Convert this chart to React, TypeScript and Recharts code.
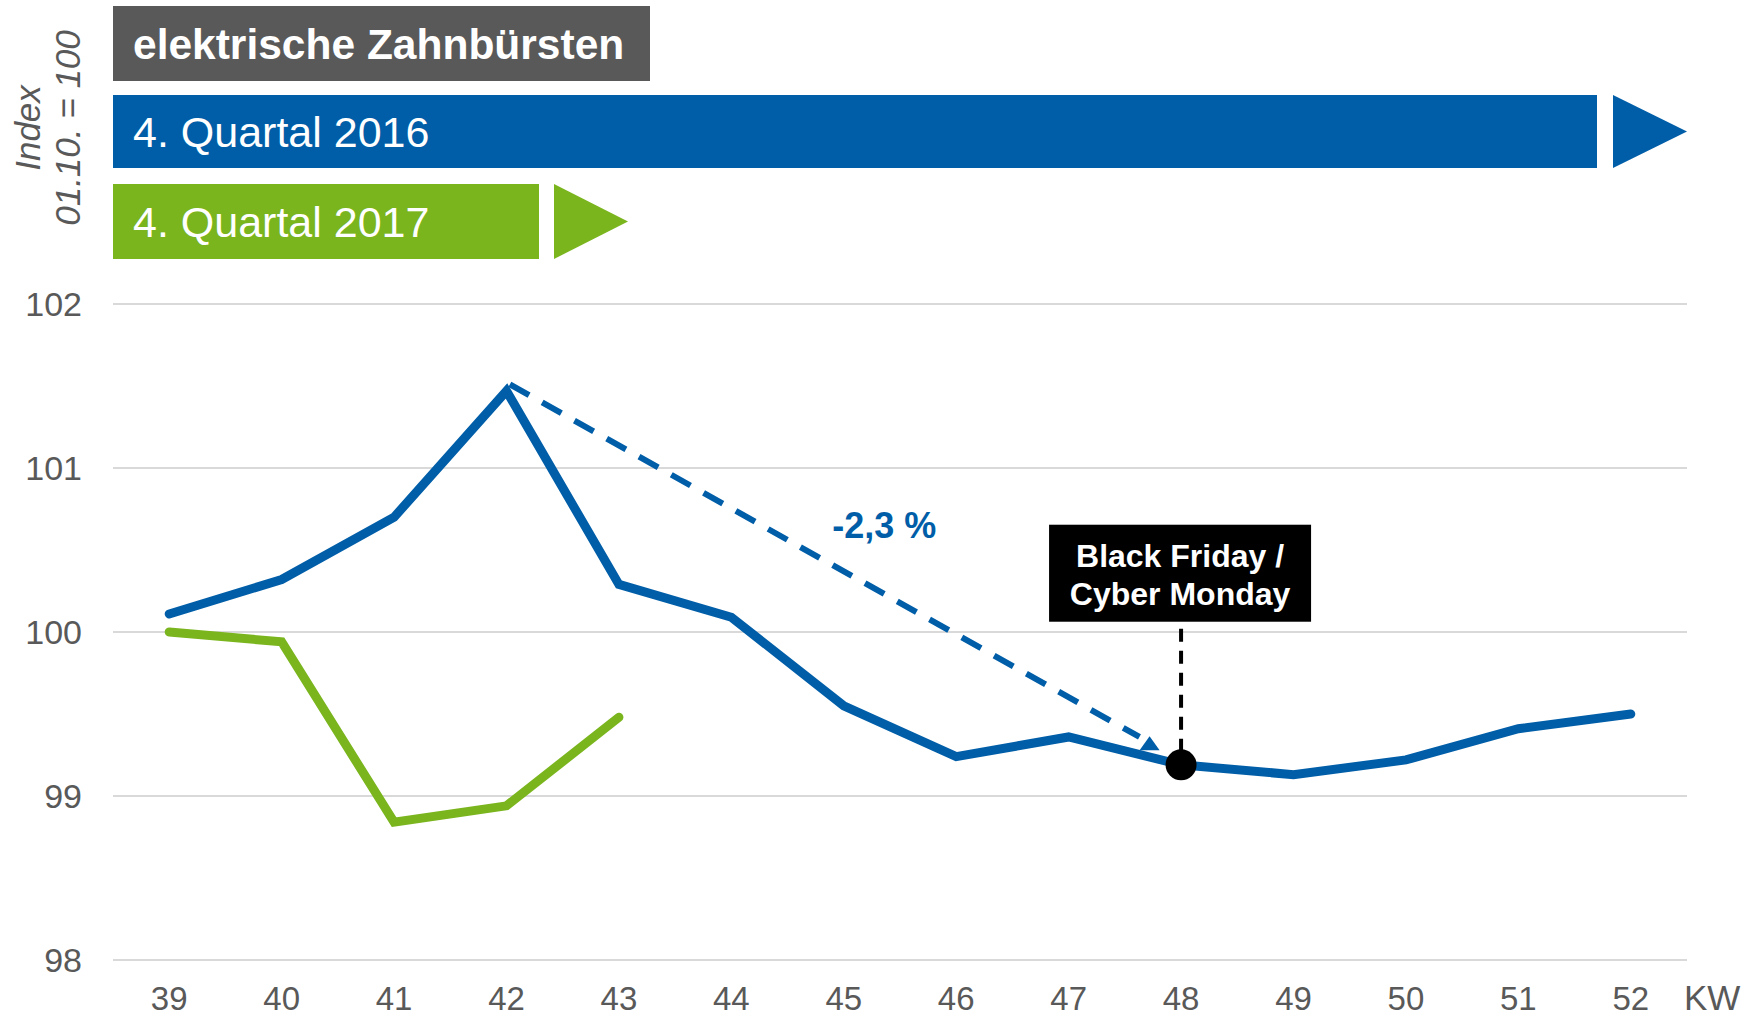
import React from 'react';
import {
  LineChart,
  Line,
  XAxis,
  YAxis,
  CartesianGrid,
  ReferenceLine,
  ReferenceDot,
} from 'recharts';

const weeks = [39, 40, 41, 42, 43, 44, 45, 46, 47, 48, 49, 50, 51, 52];
const index2016 = [100.11, 100.32, 100.7, 101.47, 100.29, 100.09, 99.55, 99.24, 99.36, 99.19, 99.13, 99.22, 99.41, 99.5];
const index2017 = [100.0, 99.94, 98.84, 98.94, 99.48];
const yTicks = [98, 99, 100, 101, 102];

const BLUE = '#005EA8';
const GREEN = '#7AB51D';
const GREY = '#595959';
const FONT = '"Liberation Sans", Arial, sans-serif';

const data = weeks.map((kw, i) => ({
  kw,
  q2016: index2016[i],
  q2017: i < index2017.length ? index2017[i] : undefined,
}));

// peak → black friday week, the -2,3 % drop
const dropStart = { x: 42.03, y: 101.51 };
const dropEnd = { x: 47.63, y: 99.36 };
const eventWeek = 48;
const eventValue = index2016[weeks.indexOf(eventWeek)];

const ArrowHead = ({ cx, cy }: any) => (
  <polygon points={`${cx},${cy - 9} ${cx + 10},${cy + 5} ${cx - 10},${cy + 5}`} fill={BLUE} />
);

const DropLabel = ({ cx, cy }: any) => (
  <text x={cx} y={cy} textAnchor="middle" dominantBaseline="central" fill={BLUE} fontSize={36} fontWeight="bold" fontFamily={FONT}>
    -2,3 %
  </text>
);

const EventBox = ({ cx, cy }: any) => (
  <g>
    <rect x={cx - 132} y={cy - 104} width={262} height={97} fill="#000" />
    <text x={cx - 1} y={cy - 62} textAnchor="middle" fill="#fff" fontSize={32} fontWeight="bold" fontFamily={FONT}>
      Black Friday /
    </text>
    <text x={cx - 1} y={cy - 24} textAnchor="middle" fill="#fff" fontSize={32} fontWeight="bold" fontFamily={FONT}>
      Cyber Monday
    </text>
  </g>
);

const Header = () => (
  <svg width={1758} height={270} style={{ position: 'absolute', left: 0, top: 0 }}>
    <rect x={113} y={6} width={537} height={75} fill={GREY} />
    <text x={133} y={59} fill="#fff" fontSize={42.5} fontWeight="bold" fontFamily={FONT}>
      elektrische Zahnbürsten
    </text>
    <rect x={113} y={95} width={1484} height={73} fill={BLUE} />
    <text x={133} y={147} fill="#fff" fontSize={43} fontFamily={FONT}>
      4. Quartal 2016
    </text>
    <polygon points="1613,95 1687,131.5 1613,168" fill={BLUE} />
    <rect x={113} y={184} width={426} height={75} fill={GREEN} />
    <text x={133} y={237} fill="#fff" fontSize={43} fontFamily={FONT}>
      4. Quartal 2017
    </text>
    <polygon points="554,184 628,221.5 554,259" fill={GREEN} />
    <text transform="translate(27,128) rotate(-90)" textAnchor="middle" dominantBaseline="central" fill={GREY} fontSize={35} fontStyle="italic" fontFamily={FONT}>
      Index
    </text>
    <text transform="translate(67,128) rotate(-90)" textAnchor="middle" dominantBaseline="central" fill={GREY} fontSize={35} fontStyle="italic" fontFamily={FONT}>
      01.10. = 100
    </text>
  </svg>
);

export default function App() {
  return (
    <div style={{ position: 'absolute', left: 0, top: 0, width: 1758, height: 1017, background: '#fff', fontFamily: FONT }}>
      <LineChart width={1758} height={1017} data={data} margin={{ top: 304, right: 71, bottom: 0, left: 0 }}>
        <CartesianGrid vertical={false} stroke="#D9D9D9" strokeWidth={2} />
        <XAxis
          dataKey="kw"
          type="number"
          domain={[38.5, 52.5]}
          ticks={weeks}
          axisLine={false}
          tickLine={false}
          tickSize={0}
          tickMargin={27}
          height={57}
          tick={{ fill: GREY, fontSize: 33, fontFamily: FONT }}
        />
        <YAxis
          type="number"
          domain={[98, 102]}
          ticks={yTicks}
          axisLine={false}
          tickLine={false}
          tickSize={0}
          tickMargin={31}
          width={113}
          tick={{ fill: GREY, fontSize: 34, fontFamily: FONT }}
        />
        <Line dataKey="q2017" stroke={GREEN} strokeWidth={9} strokeLinecap="round" dot={false} isAnimationActive={false} connectNulls={false} />
        <Line dataKey="q2016" stroke={BLUE} strokeWidth={9} strokeLinecap="round" dot={false} isAnimationActive={false} />
        <ReferenceLine
          segment={[dropStart, dropEnd]}
          stroke={BLUE}
          strokeWidth={6}
          strokeDasharray="22 15"
        />
        <ReferenceDot x={47.72} y={99.31} r={10} shape={ArrowHead} />
        <ReferenceDot x={45.36} y={100.65} r={1} shape={DropLabel} />
        <ReferenceLine
          segment={[{ x: eventWeek, y: 100.02 }, { x: eventWeek, y: eventValue }]}
          stroke="#000"
          strokeWidth={4}
          strokeDasharray="13 9"
        />
        <ReferenceDot x={eventWeek} y={eventValue} r={15.5} fill="#000" stroke="none" />
        <ReferenceDot x={eventWeek} y={100.02} r={1} shape={EventBox} />
      </LineChart>
      <Header />
      <div style={{ position: 'absolute', left: 1684, top: 978, fontSize: 35, lineHeight: '40px', color: GREY, fontFamily: FONT }}>KW</div>
    </div>
  );
}
